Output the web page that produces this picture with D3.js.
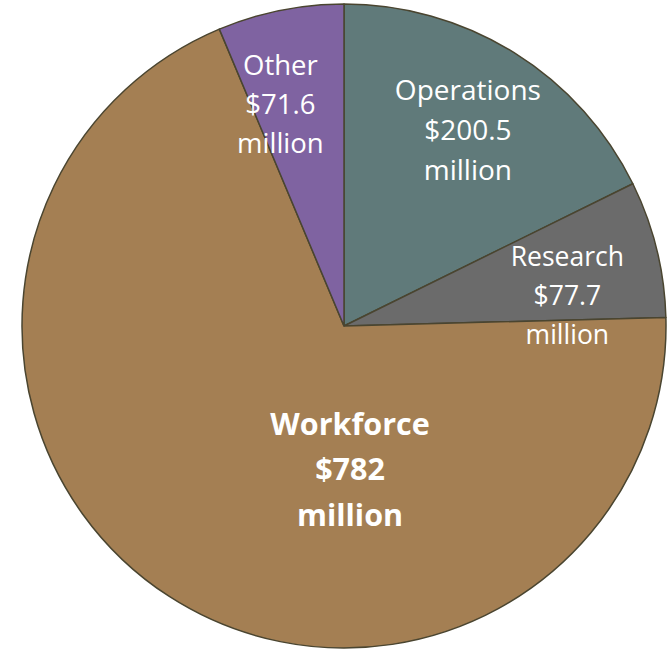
<!DOCTYPE html>
<html><head><meta charset="utf-8">
<script src="https://cdn.jsdelivr.net/npm/d3@7"></script>
<style>html,body{margin:0;padding:0;background:#fff;}svg{display:block;}</style>
</head><body>
<svg id="c" width="669" height="650"></svg>
<script>
const categories = ["Operations", "Research", "Workforce", "Other"];
const values = [200.5, 77.7, 782, 71.6];
const valueLabels = ["$200.5", "$77.7", "$782", "$71.6"];
const colors = ["#607A7A", "#6B6B6B", "#A47F53", "#7F63A1"];
// label placement: angle (deg, clockwise from 12 o'clock) and radius fraction
const labelAngle = [32.3, 82.3, 177.6, 344];
const labelRadius = [0.72, 0.70, 0.447, 0.717];
const labelSize = [28, 26.5, 30.5, 27.5];
const labelBold = [false, false, true, false];
const lineGap = [40, 39, 45.5, 39];

const svg = d3.select("#c");
const cx = 344, cy = 326, R = 322;
const g = svg.append("g").attr("transform", `translate(${cx},${cy})`);
const pie = d3.pie().sort(null).value(d => d)(values);
const arc = d3.arc().innerRadius(0).outerRadius(R);
g.selectAll("path").data(pie).join("path")
  .attr("d", arc)
  .attr("fill", (d, i) => colors[i])
  .attr("stroke", "#4A4530")
  .attr("stroke-width", 1.5)
  .attr("stroke-linejoin", "round");

categories.forEach((c, i) => {
  const a = labelAngle[i] * Math.PI / 180;
  const r = labelRadius[i] * R;
  const x = r * Math.sin(a), y = -r * Math.cos(a);
  const lines = [c, valueLabels[i], "million"];
  const t = g.append("text")
    .attr("text-anchor", "middle")
    .attr("fill", "#fff")
    .attr("font-family", "'Open Sans', 'Noto Sans', sans-serif")
    .attr("font-size", labelSize[i])
    .attr("font-weight", labelBold[i] ? "bold" : "normal");
  lines.forEach((l, k) => {
    t.append("tspan").attr("x", x).attr("y", y + (k - 1) * lineGap[i])
      .attr("dy", "0.35em").text(l);
  });
});
</script>
</body></html>
